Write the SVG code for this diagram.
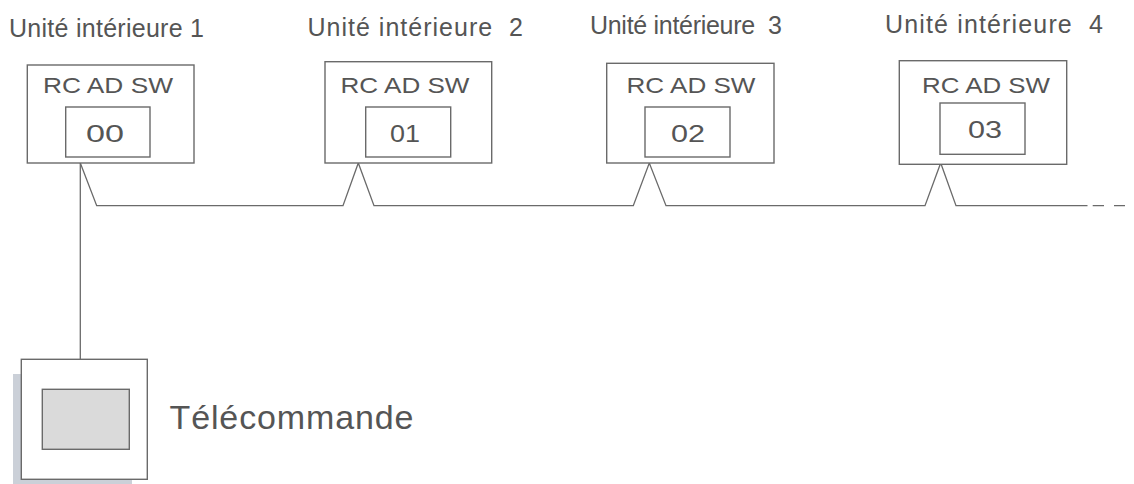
<svg xmlns="http://www.w3.org/2000/svg" width="1134" height="484" viewBox="0 0 1134 484">
<style>
.box{fill:#fff;stroke:#6a6a6a;stroke-width:1.4}
.wire{fill:none;stroke:#6a6a6a;stroke-width:1.3}
.t{font-family:"Liberation Sans",Arial,sans-serif;fill:#555;white-space:pre}
.title{font-size:25px}
.lbl{font-size:22px;text-anchor:middle}
.num{font-size:23px;text-anchor:middle}
</style>
<rect width="1134" height="484" fill="#fff"/>
<g id="connectors">
<path class="wire" d="M80.3,163 L96.7,205.7 L343,205.7 L358.3,163 L374,205.7 L633.3,205.7 L649.3,163 L666,205.7 L925,205.7 L940.7,163 L956,205.7 L1087.5,205.7"/>
<path class="wire" d="M1092.7,205.7 H1104 M1114,205.7 H1125"/>
<path class="wire" d="M80.3,163 V359.3"/>
</g>
<g id="unit1">
<text class="t title" x="9" y="37" textLength="195" lengthAdjust="spacing">Unité intérieure 1</text>
<rect class="box" x="27.3" y="65" width="166.7" height="98"/>
<text class="t lbl" x="108" y="93" textLength="130" lengthAdjust="spacingAndGlyphs">RC AD SW</text>
<rect class="box" x="65.7" y="107" width="84.3" height="50"/>
<text class="t num" x="105" y="142" textLength="38" lengthAdjust="spacingAndGlyphs">00</text>
</g>
<g id="unit2">
<text class="t title" x="307.5" y="36" textLength="215.5" lengthAdjust="spacing">Unité intérieure  2</text>
<rect class="box" x="325" y="61.7" width="166.7" height="101.3"/>
<text class="t lbl" x="405" y="92.7" textLength="129" lengthAdjust="spacingAndGlyphs">RC AD SW</text>
<rect class="box" x="365.7" y="107" width="85" height="50"/>
<text class="t num" x="405" y="142" textLength="30" lengthAdjust="spacingAndGlyphs">01</text>
</g>
<g id="unit3">
<text class="t title" x="590" y="34" textLength="192" lengthAdjust="spacing">Unité intérieure  3</text>
<rect class="box" x="606.7" y="63.3" width="167.3" height="99.7"/>
<text class="t lbl" x="691" y="93" textLength="129" lengthAdjust="spacingAndGlyphs">RC AD SW</text>
<rect class="box" x="645" y="107" width="85" height="50"/>
<text class="t num" x="688" y="142" textLength="34" lengthAdjust="spacingAndGlyphs">02</text>
</g>
<g id="unit4">
<text class="t title" x="885" y="33" textLength="218" lengthAdjust="spacing">Unité intérieure  4</text>
<rect class="box" x="899.3" y="60.7" width="167.4" height="103.6"/>
<text class="t lbl" x="986" y="93" textLength="128" lengthAdjust="spacingAndGlyphs">RC AD SW</text>
<rect class="box" x="940" y="103" width="85" height="51.3"/>
<text class="t num" x="985" y="138" textLength="34" lengthAdjust="spacingAndGlyphs">03</text>
</g>
<g id="remote">
<rect x="13" y="374" width="119" height="110" fill="#cbd0d8"/>
<rect class="box" x="21.3" y="359.3" width="126" height="120"/>
<rect x="42.3" y="389.3" width="87" height="60" fill="#dadada" stroke="#6a6a6a" stroke-width="1.4"/>
<text class="t" x="169.5" y="429" font-size="34" textLength="244" lengthAdjust="spacing">Télécommande</text>
</g>
</svg>
